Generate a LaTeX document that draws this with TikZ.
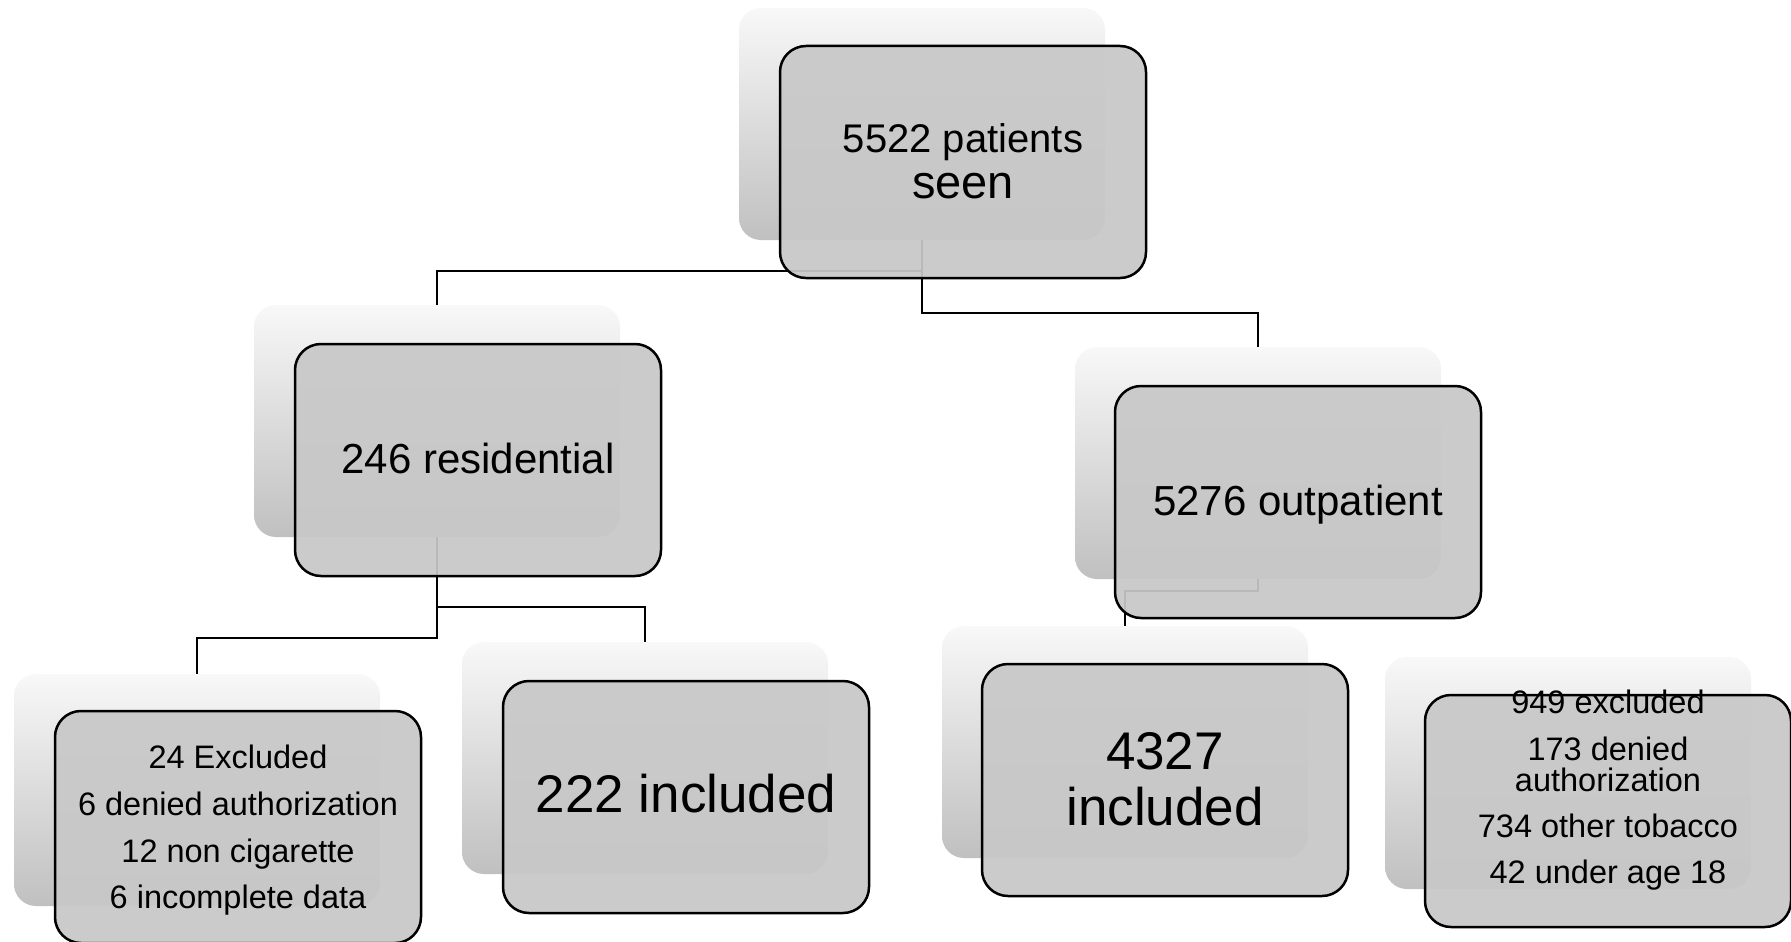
\documentclass[tikz,border=0pt]{standalone}
\usepackage{fontspec}
\setmainfont{Liberation Sans}
\definecolor{frontgray}{RGB}{200,200,200}
\definecolor{shtop}{RGB}{248,248,248}
\definecolor{shmid}{RGB}{236,236,236}
\definecolor{shbot}{RGB}{192,192,192}
\begin{document}
\begin{tikzpicture}[x=1pt,y=-1pt,
  backbox/.style={rectangle, rounded corners=22pt, minimum width=366pt, minimum height=232pt,
    inner sep=0pt, top color=shtop, middle color=shmid, bottom color=shbot, draw=none},
  frontbox/.style={rectangle, rounded corners=26pt, minimum width=366pt, minimum height=232pt,
    inner sep=0pt, draw=black, line width=2.5pt, fill=frontgray, fill opacity=0.93},
  link/.style={draw=black, line width=2.4pt},
  lbl/.style={anchor=base, inner sep=0pt, text=black},
  fs/.style={font=\fontsize{#1}{#1}\selectfont}
]
\useasboundingbox (0,0) rectangle (1791,942);
\fill[white] (0,0) rectangle (1791,942);

% back (shadow) boxes
\node[backbox] (tops) at (922,124) {};
\node[backbox] (ress) at (437,421) {};
\node[backbox] (outs) at (1258,463) {};
\node[backbox] (ex24s) at (197,790) {};
\node[backbox] (in222s) at (645,758) {};
\node[backbox] (in4327s) at (1125,742) {};
\node[backbox] (ex949s) at (1568,773) {};

% connectors
\draw[link] (tops.south) -- ++(0,31) -| (ress.north);
\draw[link] (tops.south) -- ++(0,73) -| (outs.north);
\draw[link] (ress.south) -- ++(0,101) -| (ex24s.north);
\draw[link] (ress.south) -- ++(0,70) -| (in222s.north);
\draw[link] (outs.south) -- ++(0,12) -| (in4327s.north);

% front boxes
\node[frontbox] (top) at (963,162) {};
\node[frontbox] (res) at (478,460) {};
\node[frontbox] (out) at (1298,502) {};
\node[frontbox] (ex24) at (238,827) {};
\node[frontbox] (in222) at (686,797) {};
\node[frontbox] (in4327) at (1165,780) {};
\node[frontbox] (ex949) at (1608,811) {};

% texts
\node[lbl, fs=40] (t1a) at (963,152) {5522 patients};
\node[lbl, fs=47] (t1b) at (963,198) {seen};
\node[lbl, fs=42] (t2) at (478,473) {246 residential};
\node[lbl, fs=42] (t3) at (1298,515) {5276 outpatient};
\node[lbl, fs=32.5] (t4a) at (238,768) {24 Excluded};
\node[lbl, fs=32.5] (t4b) at (238,815) {6 denied authorization};
\node[lbl, fs=32.5] (t4c) at (238,862) {12 non cigarette};
\node[lbl, fs=32.5] (t4d) at (238,908) {6 incomplete data};
\node[lbl, fs=53] (t5) at (686,812) {222 included};
\node[lbl, fs=53] (t6a) at (1165,769) {4327};
\node[lbl, fs=53] (t6b) at (1165,825) {included};
\node[lbl, fs=32.5] (t7a) at (1608,713) {949 excluded};
\node[lbl, fs=32.5] (t7b) at (1608,760) {173 denied};
\node[lbl, fs=32.5] (t7c) at (1608,791) {authorization};
\node[lbl, fs=32.5] (t7d) at (1608,837) {734 other tobacco};
\node[lbl, fs=32.5] (t7e) at (1608,883) {42 under age 18};
\end{tikzpicture}
\end{document}
